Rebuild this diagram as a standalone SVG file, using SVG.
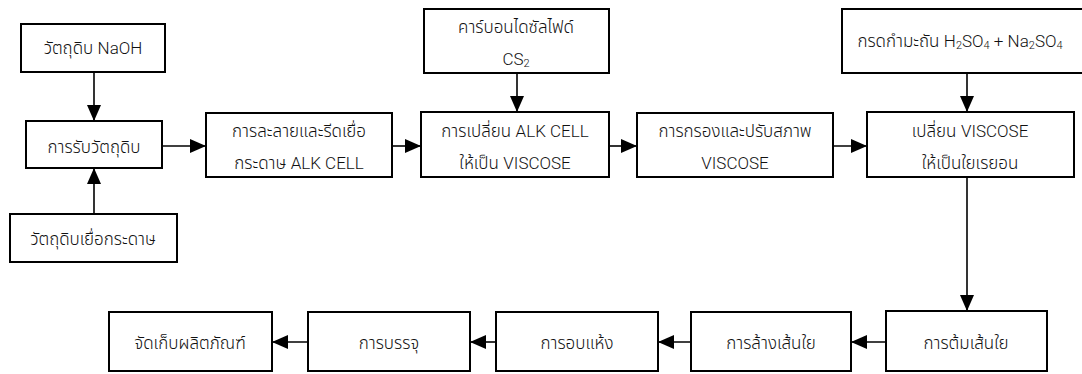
<svg xmlns="http://www.w3.org/2000/svg" width="1082" height="374" viewBox="0 0 1082 374">
<style>
.box{fill:#fff;stroke:#000;stroke-width:2}
.t{font-family:"Noto Sans Thai","Liberation Sans","Noto Sans",sans-serif;font-size:17px;font-weight:300;fill:#111;text-anchor:middle}
.l{font-family:Roboto,"Liberation Sans",Arial,sans-serif;font-weight:300}
.c{stroke:#000;stroke-width:1.6;fill:none;marker-end:url(#ah)}
.sub{font-size:11px}
</style>
<defs>
<marker id="ah" markerUnits="userSpaceOnUse" markerWidth="16" markerHeight="14" refX="16" refY="7" orient="auto">
<path d="M0,0 L16,7 L0,14 z" fill="#000"/>
</marker>
</defs>
<rect width="1082" height="374" fill="#fff"/>
<g id="connectors">
<line class="c" x1="94" y1="72" x2="94" y2="121"/>
<line class="c" x1="94" y1="214" x2="94" y2="168"/>
<line class="c" x1="162" y1="146" x2="206" y2="146"/>
<line class="c" x1="392" y1="146" x2="421" y2="146"/>
<line class="c" x1="517" y1="73" x2="517" y2="112"/>
<line class="c" x1="609" y1="146" x2="637" y2="146"/>
<line class="c" x1="833" y1="146" x2="867" y2="146"/>
<line class="c" x1="967" y1="73" x2="967" y2="112"/>
<line class="c" x1="967" y1="177" x2="967" y2="311"/>
<line class="c" x1="886" y1="342" x2="851" y2="342"/>
<line class="c" x1="691" y1="342" x2="658" y2="342"/>
<line class="c" x1="496" y1="342" x2="470" y2="342"/>
<line class="c" x1="308" y1="342" x2="272" y2="342"/>
</g>
<g id="n-naoh"><rect class="box" x="21" y="24" width="144" height="48"/><text class="t" x="93" y="54">วัตถุดิบ <tspan class="l">NaOH</tspan></text></g>
<g id="n-receive"><rect class="box" x="26" y="121" width="136" height="47"/><text class="t" x="94" y="153">การรับวัตถุดิบ</text></g>
<g id="n-pulp"><rect class="box" x="10" y="214" width="167" height="48"/><text class="t" x="93" y="245">วัตถุดิบเยื่อกระดาษ</text></g>
<g id="n-dissolve"><rect class="box" x="206" y="113" width="186" height="64"/><text class="t" x="299" y="137">การละลายและรีดเยื่อ</text><text class="t" x="299" y="169">กระดาษ <tspan class="l">ALK CELL</tspan></text></g>
<g id="n-cs2"><rect class="box" x="424" y="9" width="185" height="64"/><text class="t" x="516" y="33">คาร์บอนไดซัลไฟด์</text><text class="t l" x="516" y="65">CS<tspan class="sub" dy="2">2</tspan></text></g>
<g id="n-convert"><rect class="box" x="421" y="112" width="188" height="65"/><text class="t" x="515" y="137">การเปลี่ยน <tspan class="l">ALK CELL</tspan></text><text class="t" x="515" y="169">ให้เป็น <tspan class="l">VISCOSE</tspan></text></g>
<g id="n-filter"><rect class="box" x="637" y="113" width="196" height="64"/><text class="t" x="735" y="137">การกรองและปรับสภาพ</text><text class="t l" x="735" y="169">VISCOSE</text></g>
<g id="n-acid"><rect class="box" x="842" y="9" width="250" height="64"/><text class="t" x="960" y="47">กรดกำมะถัน <tspan class="l">H<tspan class="sub" dy="2">2</tspan><tspan dy="-2">SO</tspan><tspan class="sub" dy="2">4</tspan><tspan dy="-2"> + Na</tspan><tspan class="sub" dy="2">2</tspan><tspan dy="-2">SO</tspan><tspan class="sub" dy="2">4</tspan></tspan></text></g>
<g id="n-rayon"><rect class="box" x="867" y="112" width="207" height="65"/><text class="t" x="970" y="137">เปลี่ยน <tspan class="l">VISCOSE</tspan></text><text class="t" x="970" y="169">ให้เป็นใยเรยอน</text></g>
<g id="n-boil"><rect class="box" x="886" y="311" width="161" height="60"/><text class="t" x="966" y="349">การต้มเส้นใย</text></g>
<g id="n-wash"><rect class="box" x="691" y="312" width="160" height="59"/><text class="t" x="771" y="349">การล้างเส้นใย</text></g>
<g id="n-dry"><rect class="box" x="496" y="312" width="162" height="59"/><text class="t" x="577" y="349">การอบแห้ง</text></g>
<g id="n-pack"><rect class="box" x="308" y="312" width="162" height="59"/><text class="t" x="389" y="349">การบรรจุ</text></g>
<g id="n-store"><rect class="box" x="109" y="312" width="163" height="59"/><text class="t" x="190" y="349">จัดเก็บผลิตภัณฑ์</text></g>
</svg>
